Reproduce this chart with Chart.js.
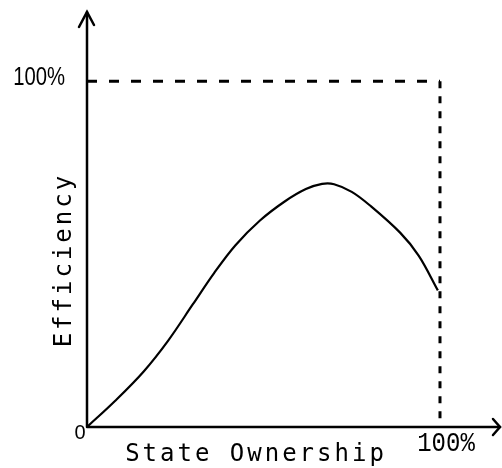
<!DOCTYPE html>
<html>
<head>
<meta charset="utf-8">
<script src="https://cdn.jsdelivr.net/npm/chart.js@4/dist/chart.umd.min.js"></script>
<style>
html,body{margin:0;padding:0;background:#fff;}
#wrap{width:502px;height:468px;}
</style>
</head>
<body>
<div id="wrap"><canvas id="c" width="502" height="468"></canvas></div>
<script>
// Data (percent of the axes)
const curveX = [0, 8, 16, 23, 30, 36, 42, 49, 56, 62, 66.6, 70, 75, 80, 88.7, 94, 99.4];
const curveY = [0, 7.6, 16, 25, 35.5, 44.5, 52.5, 59.7, 65.2, 68.8, 70.3, 70.2, 68, 64.2, 56.2, 49.5, 39.5];
const topLineX = [0, 100];
const topLineY = [100, 100];
const rightLineX = [100, 100];
const rightLineY = [100, 0];
const xTickValues = [100];
const xTickLabels = ['100%'];
const yTickValues = [0, 100];
const yTickLabels = ['0', '100%'];
const xTitle = 'State Ownership';
const yTitle = 'Efficiency';

const toPts = (xs, ys) => xs.map((x, i) => ({x: x, y: ys[i]}));

const axesPlugin = {
  id: 'handAxes',
  afterDatasetsDraw(chart) {
    const ctx = chart.ctx;
    const xs = chart.scales.x, ys = chart.scales.y;
    const x0 = xs.getPixelForValue(0), y0 = ys.getPixelForValue(0);
    const xEnd = xs.getPixelForValue(xs.max), yEnd = ys.getPixelForValue(ys.max);
    ctx.save();
    ctx.strokeStyle = '#000';
    ctx.lineWidth = 2.5;
    ctx.lineCap = 'round';
    // axes
    ctx.beginPath();
    ctx.moveTo(x0, y0); ctx.lineTo(x0, yEnd);
    ctx.moveTo(x0, y0); ctx.lineTo(xEnd, y0);
    ctx.stroke();
    // arrows
    ctx.beginPath();
    ctx.moveTo(x0 - 8, yEnd + 15); ctx.lineTo(x0, yEnd); ctx.lineTo(x0 + 7, yEnd + 13);
    ctx.moveTo(xEnd - 7, y0 - 8); ctx.lineTo(xEnd, y0); ctx.lineTo(xEnd - 7, y0 + 8);
    ctx.stroke();
    // tick labels
    ctx.fillStyle = '#000';
    ctx.textBaseline = 'middle';
    yTickValues.forEach((v, i) => {
      const py = ys.getPixelForValue(v);
      if (v === 0) {
        ctx.save();
        ctx.font = '20px "Liberation Sans", Arial, sans-serif';
        ctx.textAlign = 'center';
        ctx.translate(x0 - 7, py + 6);
        ctx.scale(1, 1.0);
        ctx.fillText(yTickLabels[i], 0, 0);
        ctx.restore();
      } else {
        ctx.save();
        ctx.font = '26px "Liberation Sans", Arial, sans-serif';
        ctx.textAlign = 'right';
        ctx.translate(x0 - 22, py - 3);
        ctx.scale(0.78, 1.02);
        ctx.fillText(yTickLabels[i], 0, 0);
        ctx.restore();
      }
    });
    xTickValues.forEach((v, i) => {
      ctx.save();
      ctx.font = '24px "Liberation Mono", "Courier New", monospace';
      ctx.textAlign = 'center';
      ctx.translate(xs.getPixelForValue(v) + 6, y0 + 17);
      ctx.scale(1, 1.15);
      ctx.fillText(xTickLabels[i], 0, 0);
      ctx.restore();
    });
    // titles
    ctx.font = '24px "DejaVu Sans Mono", monospace';
    try { ctx.letterSpacing = '3px'; } catch (e) {}
    ctx.textAlign = 'center';
    ctx.fillText(xTitle, 256, y0 + 28);
    ctx.save();
    ctx.translate(x0 - 22, (ys.getPixelForValue(0) + ys.getPixelForValue(100)) / 2 + 6);
    ctx.rotate(-Math.PI / 2);
    ctx.fillText(yTitle, 0, 0);
    ctx.restore();
    ctx.restore();
  }
};

new Chart(document.getElementById('c'), {
  type: 'scatter',
  data: {
    datasets: [
      {
        data: toPts(curveX, curveY),
        showLine: true,
        borderColor: '#000',
        borderWidth: 2.2,
        pointRadius: 0,
        tension: 0.35,
        fill: false
      },
      {
        data: toPts(topLineX, topLineY),
        showLine: true,
        borderColor: '#000',
        borderWidth: 3,
        borderDash: [10, 12],
        pointRadius: 0,
        fill: false
      },
      {
        data: toPts(rightLineX, rightLineY),
        showLine: true,
        borderColor: '#000',
        borderWidth: 3,
        borderDash: [7, 8],
        pointRadius: 0,
        fill: false
      }
    ]
  },
  options: {
    responsive: false,
    animation: false,
    devicePixelRatio: 1,
    layout: { padding: { left: 87, right: 2, top: 12, bottom: 41 } },
    plugins: { legend: { display: false }, tooltip: { enabled: false } },
    scales: {
      x: { type: 'linear', min: 0, max: 117, display: false },
      y: { type: 'linear', min: 0, max: 120, display: false }
    }
  },
  plugins: [axesPlugin]
});
</script>
</body>
</html>
